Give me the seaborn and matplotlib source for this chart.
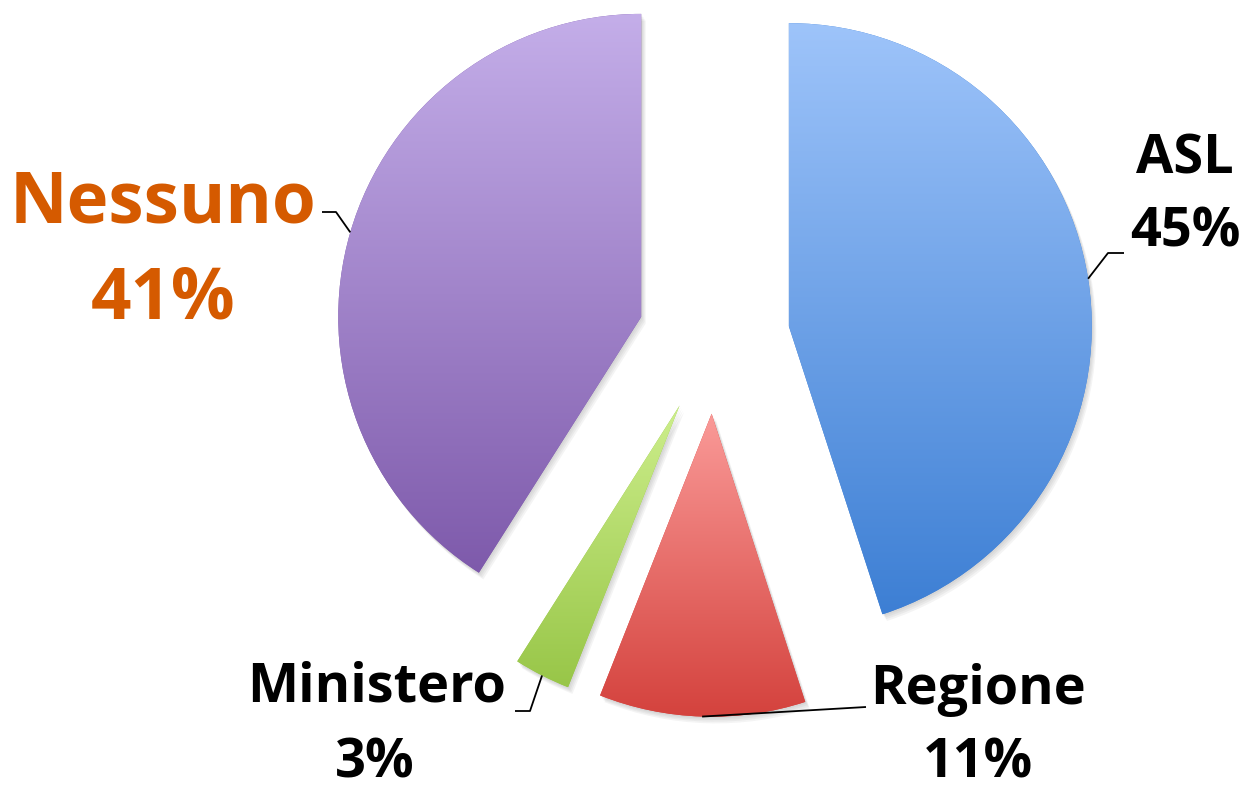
import numpy as np
import matplotlib
matplotlib.use("Agg")
import matplotlib.pyplot as plt
import matplotlib.patheffects as pe
import seaborn as sns

# data
labels = ["ASL", "Regione", "Ministero", "Nessuno"]
values = [45, 11, 3, 41]
pct_labels = ["45%", "11%", "3%", "41%"]
top_colors = ["#9EC4FA", "#FA9A98", "#CDEE8C", "#C4AEE9"]
bottom_colors = ["#3D7FD4", "#D4423D", "#98C648", "#7E5AAB"]

sns.set_theme(style="white")
plt.rcParams["font.family"] = ["Open Sans", "DejaVu Sans"]

W, H = 1243, 789
R_PX = 303.0
CX, CY = 714.0, 338.0


def px(x, y):
    # pixel position (from top-left) -> data coords (pie radius = 1)
    return (x - CX) / R_PX, (CY - y) / R_PX


fig = plt.figure(figsize=(W / 100, H / 100), dpi=100)
ax = fig.add_axes([0, 0, 1, 1])

wedges, _ = ax.pie(values, startangle=90, counterclock=False,
                   explode=[0.25] * len(values), radius=1,
                   colors=bottom_colors,
                   wedgeprops=dict(linewidth=0, zorder=1))

# soft drop shadow: a few faint offset copies
shadow = [pe.SimplePatchShadow(offset=(o * 0.8, -o * 1.2), shadow_rgbFace="#666666", alpha=0.07)
          for o in (4, 3, 2, 1)]

grad = np.linspace(0, 1, 256).reshape(-1, 1)
for w, c_top, c_bot in zip(wedges, top_colors, bottom_colors):
    w.set_path_effects(shadow + [pe.Normal()])
    bb = w.get_path().get_extents()
    cmap = sns.blend_palette([c_bot, c_top], n_colors=256, as_cmap=True)
    im = ax.imshow(grad, cmap=cmap, origin="lower", aspect="auto",
                   extent=[bb.x0, bb.x1, bb.y0, bb.y1], zorder=2,
                   interpolation="bilinear")
    im.set_clip_path(w)

# leader lines: anchor on the outer arc at each wedge's mid angle
knees = {
    "ASL": [px(1108, 253), px(1124, 253)],
    "Regione": [px(866, 707)],
    "Ministero": [px(530, 711), px(515, 711)],
    "Nessuno": [px(336, 212), px(322, 212)],
}
for w, lab in zip(wedges, labels):
    ang = np.deg2rad((w.theta1 + w.theta2) / 2)
    ax0 = w.center[0] + w.r * np.cos(ang)
    ay0 = w.center[1] + w.r * np.sin(ang)
    pts = [(ax0, ay0)] + knees[lab]
    xs, ys = zip(*pts)
    ax.plot(xs, ys, color="black", lw=1.3, zorder=3, solid_capstyle="butt")

# text labels
text_pos = {
    "ASL": (px(1185, 160), px(1185, 233), 39, "black"),
    "Regione": (px(978, 690), px(978, 764), 39, "black"),
    "Ministero": (px(377, 688), px(375, 764), 39, "black"),
    "Nessuno": (px(163, 204), px(163, 300), 51, "#D55A00"),
}
for lab, pct in zip(labels, pct_labels):
    p1, p2, fs, col = text_pos[lab]
    ax.text(*p1, lab, ha="center", va="center", fontsize=fs, fontweight="bold", color=col)
    ax.text(*p2, pct, ha="center", va="center", fontsize=fs, fontweight="bold", color=col)

ax.set_xlim(-CX / R_PX, (W - CX) / R_PX)
ax.set_ylim(-(H - CY) / R_PX, CY / R_PX)
ax.set_aspect("auto")
ax.axis("off")

fig.savefig("out.png", dpi=100)
